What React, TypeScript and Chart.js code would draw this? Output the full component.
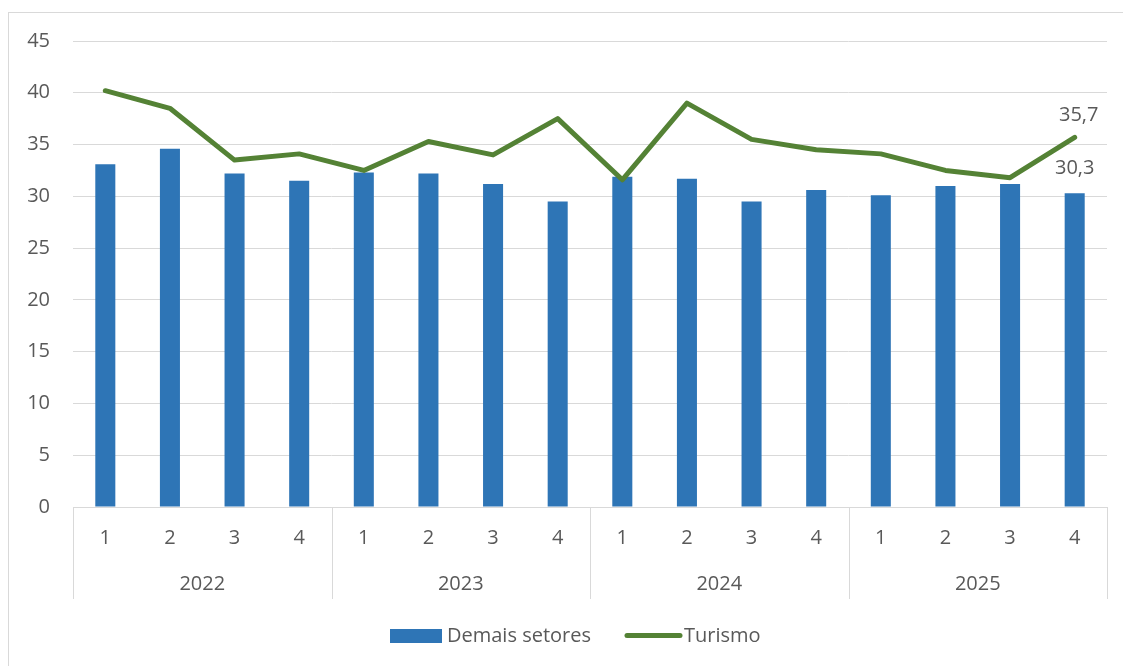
import React, { useEffect, useRef } from "react";
import { Chart, registerables } from "chart.js";

Chart.register(...registerables);

const years = ["2022", "2023", "2024", "2025"];
const quarterLabels = ["1", "2", "3", "4", "1", "2", "3", "4", "1", "2", "3", "4", "1", "2", "3", "4"];
const demaisSetores = [33.1, 34.6, 32.2, 31.5, 32.3, 32.2, 31.2, 29.5, 31.9, 31.7, 29.5, 30.6, 30.1, 31.0, 31.2, 30.3];
const turismo = [40.2, 38.5, 33.5, 34.1, 32.5, 35.3, 34.0, 37.5, 31.6, 39.0, 35.5, 34.5, 34.1, 32.5, 31.8, 35.7];
const seriesNames = ["Demais setores", "Turismo"];
const yMin = 0;
const yMax = 45;
const yStep = 5;

const BAR_COLOR = "#2E75B6";
const LINE_COLOR = "#548235";
const TEXT_COLOR = "#595959";
const GRID_COLOR = "#d9d9d9";
const FONT = "'Open Sans', 'Noto Sans', sans-serif";

const fmt = (v: number) => v.toFixed(1).replace(".", ",");

const extrasPlugin = {
  id: "extras",
  afterDraw(chart: any) {
    const ctx = chart.ctx;
    const x = chart.scales.x;
    const area = chart.chartArea;
    const n = quarterLabels.length;
    const perYear = 4;

    const bounds: number[] = [];
    for (let g = 0; g <= years.length; g++) {
      const idx = g * perYear;
      let px: number;
      if (idx === 0) px = area.left;
      else if (idx >= n) px = area.right;
      else px = (x.getPixelForValue(idx - 1) + x.getPixelForValue(idx)) / 2;
      bounds.push(px);
    }
    ctx.save();
    ctx.strokeStyle = GRID_COLOR;
    ctx.lineWidth = 1;
    bounds.forEach((px) => {
      const p = Math.round(px) + 0.5;
      ctx.beginPath();
      ctx.moveTo(p, area.bottom);
      ctx.lineTo(p, 599);
      ctx.stroke();
    });
    ctx.fillStyle = TEXT_COLOR;
    ctx.font = `20px ${FONT}`;
    ctx.textAlign = "center";
    ctx.textBaseline = "middle";
    years.forEach((yr, i) => {
      ctx.fillText(yr, (bounds[i] + bounds[i + 1]) / 2, 584);
    });

    const last = n - 1;
    const yS = chart.scales.y;
    const lx = x.getPixelForValue(last);
    ctx.fillText(fmt(turismo[last]), lx + 4, yS.getPixelForValue(turismo[last]) - 22);
    ctx.fillText(fmt(demaisSetores[last]), lx, yS.getPixelForValue(demaisSetores[last]) - 25);

    ctx.font = `20px ${FONT}`;
    ctx.textAlign = "left";
    ctx.fillStyle = BAR_COLOR;
    ctx.fillRect(390, 629, 52, 14);
    ctx.fillStyle = TEXT_COLOR;
    ctx.fillText(seriesNames[0], 447, 636);
    ctx.strokeStyle = LINE_COLOR;
    ctx.lineWidth = 5;
    ctx.lineCap = "round";
    ctx.beginPath();
    ctx.moveTo(627, 635.5);
    ctx.lineTo(680, 635.5);
    ctx.stroke();
    ctx.fillStyle = TEXT_COLOR;
    ctx.fillText(seriesNames[1], 684, 636);
    ctx.restore();
  },
};

export default function App() {
  const canvasRef = useRef<HTMLCanvasElement | null>(null);

  useEffect(() => {
    document.body.style.overflow = "hidden";
    const canvas = canvasRef.current;
    if (!canvas) return;
    const chart = new Chart(canvas, {
      type: "bar",
      data: {
        labels: quarterLabels,
        datasets: [
          {
            type: "line",
            label: seriesNames[1],
            data: turismo,
            borderColor: LINE_COLOR,
            backgroundColor: LINE_COLOR,
            borderWidth: 5,
            pointRadius: 0,
            tension: 0,
            borderJoinStyle: "round",
            borderCapStyle: "round",
            order: 0,
          } as any,
          {
            type: "bar",
            label: seriesNames[0],
            data: demaisSetores,
            backgroundColor: BAR_COLOR,
            barPercentage: 0.31,
            categoryPercentage: 1,
            order: 1,
          },
        ],
      },
      options: {
        responsive: false,
        animation: false,
        devicePixelRatio: 1,
        layout: { padding: { top: 41, right: 16, left: 0, bottom: 0 } },
        plugins: {
          legend: { display: false },
          tooltip: { enabled: false },
        },
        scales: {
          x: {
            grid: { display: false, drawTicks: false },
            border: { display: true, color: GRID_COLOR, width: 1 },
            ticks: {
              color: TEXT_COLOR,
              font: { family: FONT, size: 20 },
              padding: 19,
              maxRotation: 0,
              autoSkip: false,
            },
            afterFit(scale: any) {
              scale.height = 159;
            },
          },
          y: {
            min: yMin,
            max: yMax,
            grid: { color: GRID_COLOR, drawTicks: false, lineWidth: 1 },
            border: { display: false },
            ticks: {
              stepSize: yStep,
              color: TEXT_COLOR,
              font: { family: FONT, size: 20 },
              padding: 23,
            },
            afterFit(scale: any) {
              scale.width = 73;
            },
          },
        },
      },
      plugins: [extrasPlugin],
    });
    return () => chart.destroy();
  }, []);

  return (
    <div style={{ position: "fixed", left: 0, top: 0, width: 1123, height: 666, overflow: "hidden", background: "#fff" }}>
      <canvas ref={canvasRef} width={1123} height={666} style={{ display: "block" }} />
      <div
        style={{
          position: "absolute",
          left: 8,
          top: 12,
          width: 1200,
          height: 700,
          border: "1px solid #d9d9d9",
          pointerEvents: "none",
        }}
      />
    </div>
  );
}
